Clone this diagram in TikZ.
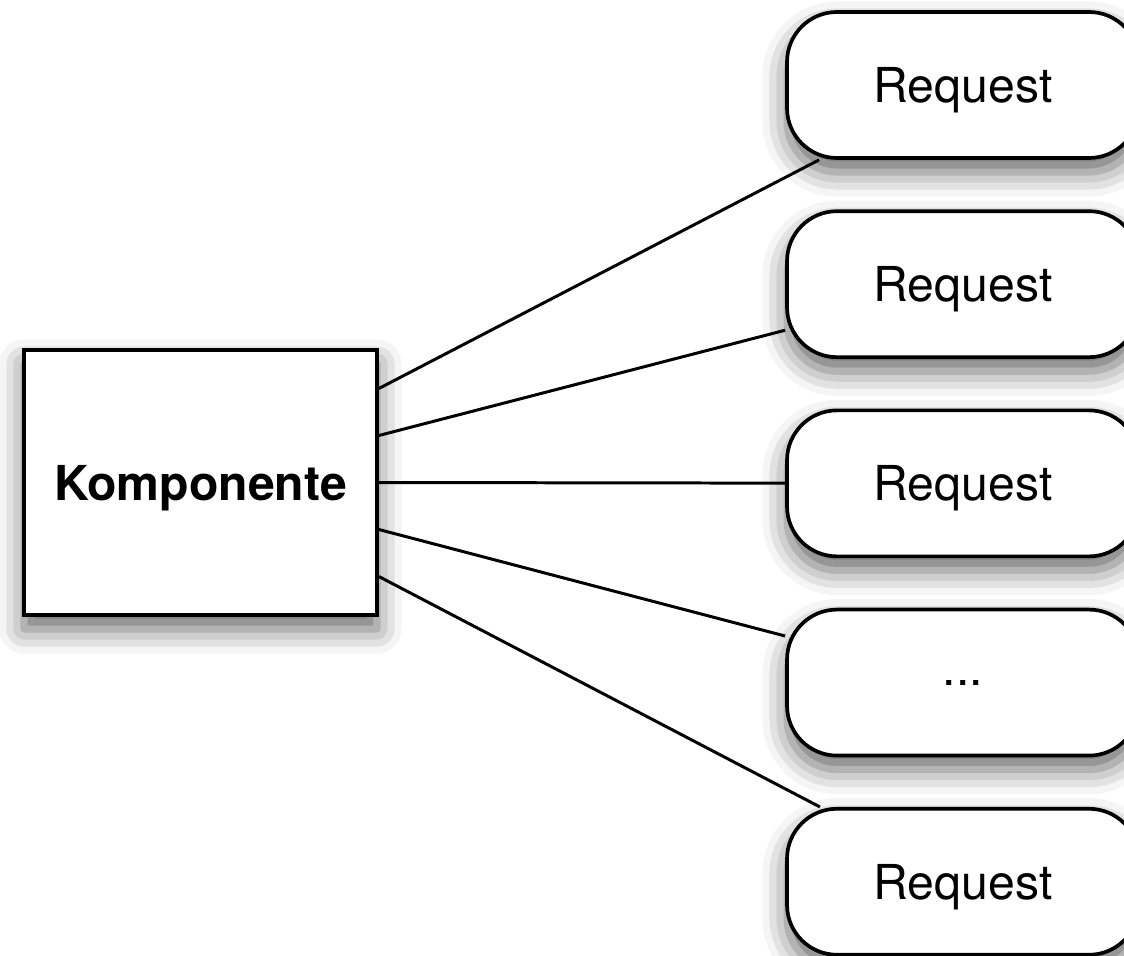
\documentclass[tikz,border=0pt]{standalone}
\usepackage{fontspec}
\setmainfont{TeX Gyre Heros}
\usetikzlibrary{positioning,calc,shadows.blur}

\begin{document}
\begin{tikzpicture}[
    font=\fontsize{13.7}{16}\selectfont,
    softshadow/.style={blur shadow={shadow xshift=0pt, shadow yshift=-4pt,
        shadow blur radius=7pt, shadow opacity=60}},
    compbox/.style={rectangle, draw, fill=white, line width=1.05pt, text depth=0pt,
        minimum width=3.53cm, minimum height=2.65cm, softshadow},
    reqbox/.style={rectangle, rounded corners=0.5cm, draw, fill=white, text depth=0pt,
        line width=1.05pt, minimum width=3.52cm, minimum height=1.46cm, softshadow},
    link/.style={line width=0.85pt}]
    \useasboundingbox (0,0) rectangle (11.24,9.55);

    % Component
    \node[compbox] (komp) at (2.005,4.725) {\bfseries Komponente};

    % Requests
    \node[reqbox] (req1) at (9.63,8.70) {Request};
    \node[reqbox, below=0.495cm of req1] (req2) {Request};
    \node[reqbox, below=0.495cm of req2] (req3) {Request};
    \node[reqbox, below=0.495cm of req3] (req4) {...};
    \node[reqbox, below=0.495cm of req4] (req5) {Request};

    % Lines
    \foreach \i in {1,...,5} {
        \coordinate (kp\i) at ($(komp.east)+(0,{(3-\i)*0.47})$);
        \draw[link] (kp\i) -- (req\i);
    }
\end{tikzpicture}
\end{document}
